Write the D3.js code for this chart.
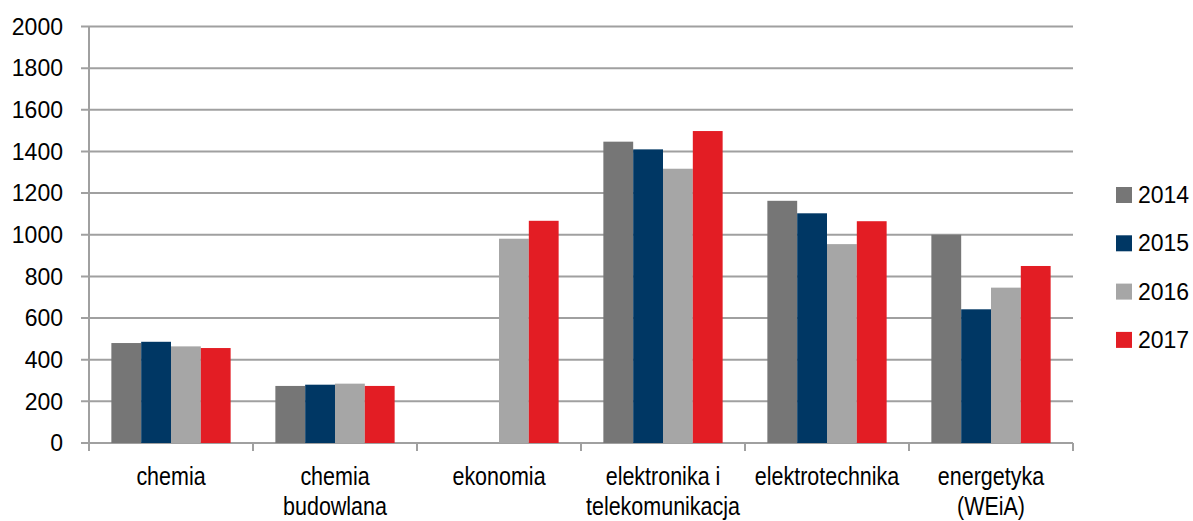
<!DOCTYPE html>
<html>
<head>
<meta charset="utf-8">
<script src="https://cdn.jsdelivr.net/npm/d3@7"></script>
<style>
  html, body { margin: 0; padding: 0; background: #fff; }
  svg { display: block; }
</style>
</head>
<body>
<svg id="chart" width="1193" height="521"></svg>
<script>
// Field-of-study categories (two-line labels split by "\n")
const categories = [
  "chemia",
  "chemia\nbudowlana",
  "ekonomia",
  "elektronika i\ntelekomunikacja",
  "elektrotechnika",
  "energetyka\n(WEiA)"
];
const years = ["2014", "2015", "2016", "2017"];
const values2014 = [480, 274, null, 1447, 1163, 1000];
const values2015 = [486, 280, null, 1410, 1103, 642];
const values2016 = [464, 285, 981, 1317, 955, 746];
const values2017 = [456, 274, 1067, 1498, 1065, 850];
const yTicks = [0, 200, 400, 600, 800, 1000, 1200, 1400, 1600, 1800, 2000];
const colors = ["#767676", "#003764", "#a6a6a6", "#e31d24"];

const series = [values2014, values2015, values2016, values2017];

const svg = d3.select("#chart");
const plotLeft = 89, plotRight = 1073, plotTop = 26.5, plotBottom = 443;

const x = d3.scaleBand().domain(categories).range([plotLeft, plotRight]).padding(0);
// four bars per group with a gap of 1.5 bar widths between groups
const barW = x.bandwidth() / 5.5;
const xs = d3.scaleBand().domain(years)
  .range([barW * 0.75, barW * 4.75]).padding(0);
const y = d3.scaleLinear().domain([0, 2000]).range([plotBottom, plotTop]);

// gridlines
const gridColor = "#a0a0a0";
svg.append("g")
  .selectAll("line")
  .data(yTicks)
  .join("line")
  .attr("x1", plotLeft - 8)
  .attr("x2", plotRight)
  .attr("y1", d => y(d))
  .attr("y2", d => y(d))
  .attr("stroke", gridColor)
  .attr("stroke-width", 2);

// y axis line
svg.append("line")
  .attr("x1", plotLeft).attr("x2", plotLeft)
  .attr("y1", plotTop).attr("y2", plotBottom)
  .attr("stroke", gridColor).attr("stroke-width", 2);

// y tick labels
svg.append("g")
  .selectAll("text")
  .data(yTicks)
  .join("text")
  .attr("x", 63)
  .attr("y", d => y(d))
  .attr("dy", "0.36em")
  .attr("text-anchor", "end")
  .attr("font-family", "'Liberation Sans', Arial, sans-serif")
  .attr("font-size", 23)
  .attr("fill", "#000")
  .text(d => d);

// category tick marks
const boundaries = d3.range(categories.length + 1).map(i => plotLeft + i * x.step());
svg.append("g")
  .selectAll("line")
  .data(boundaries)
  .join("line")
  .attr("x1", d => d).attr("x2", d => d)
  .attr("y1", plotBottom).attr("y2", plotBottom + 8)
  .attr("stroke", gridColor).attr("stroke-width", 2);

// bars
const barData = [];
categories.forEach((c, ci) => {
  years.forEach((yr, si) => {
    const v = series[si][ci];
    if (v != null) barData.push({ c, yr, si, v });
  });
});
svg.append("g")
  .selectAll("rect")
  .data(barData)
  .join("rect")
  .attr("x", d => x(d.c) + xs(d.yr))
  .attr("width", xs.bandwidth())
  .attr("y", d => y(d.v))
  .attr("height", d => y(0) - y(d.v))
  .attr("fill", d => colors[d.si]);

// category labels, horizontally condensed
const condense = 0.86;
const catG = svg.append("g")
  .attr("font-family", "'Liberation Sans', Arial, sans-serif")
  .attr("font-size", 25)
  .attr("fill", "#000")
  .attr("text-anchor", "middle");
categories.forEach(c => {
  const cx = x(c) + x.bandwidth() / 2;
  const t = catG.append("text")
    .attr("transform", `translate(${cx},485) scale(${condense},1)`);
  c.split("\n").forEach((line, i) => {
    t.append("tspan")
      .attr("x", 0)
      .attr("y", i * 30)
      .text(line);
  });
});

// legend
const legend = svg.append("g");
years.forEach((yr, i) => {
  const ly = 187 + i * 48.3;
  legend.append("rect")
    .attr("x", 1116).attr("y", ly)
    .attr("width", 16).attr("height", 16)
    .attr("fill", colors[i]);
  legend.append("text")
    .attr("x", 1138).attr("y", ly + 16)
    .attr("font-family", "'Liberation Sans', Arial, sans-serif")
    .attr("font-size", 23)
    .attr("fill", "#000")
    .text(yr);
});
</script>
</body>
</html>
